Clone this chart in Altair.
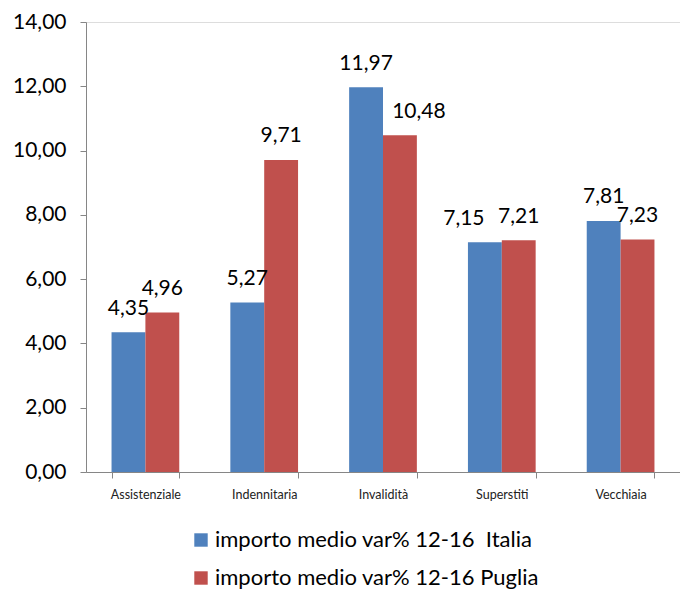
import altair as alt
import pandas as pd

categories = ["Assistenziale", "Indennitaria", "Invalidità", "Superstiti", "Vecchiaia"]
series = ["importo medio var% 12-16\u00a0 Italia", "importo medio var% 12-16 Puglia"]
italia = [4.35, 5.27, 11.97, 7.15, 7.81]
puglia = [4.96, 9.71, 10.48, 7.21, 7.23]
y_ticks = [0, 2, 4, 6, 8, 10, 12, 14]

PLOT_W, PLOT_H, Y_MAX = 594, 450, 14

# manual horizontal label shifts (pixels) as placed in the original chart
label_shift = {("Superstiti", 0): -21, ("Invalidità", 1): 19}

rows = []
for i, c in enumerate(categories):
    for s, vals in enumerate([italia, puglia]):
        rows.append({"categoria": c, "serie": series[s], "valore": vals[i],
                     "shift": label_shift.get((c, s), 0)})
df = pd.DataFrame(rows)

FONT = "Lato"
colors = ["#4F81BD", "#C0504D"]

base = alt.Chart(df).encode(
    x=alt.X("categoria:N", sort=categories, title=None,
            scale=alt.Scale(paddingInner=0.43, paddingOuter=0.215),
            axis=alt.Axis(labelAngle=0, labelFontSize=12.5, labelColor="#222222",
                          labelPadding=10, tickBand="extent", tickSize=6,
                          domainColor="#868686", tickColor="#868686", labelFont=FONT)),
    xOffset=alt.XOffset("serie:N", sort=series),
)

bars = base.mark_bar().encode(
    y=alt.Y("valore:Q", title=None,
            scale=alt.Scale(domain=[0, Y_MAX], nice=False),
            axis=alt.Axis(values=y_ticks, grid=False, labelFontSize=21,
                          labelColor="#000000", labelPadding=14, tickSize=6,
                          domainColor="#868686", tickColor="#868686", labelFont=FONT,
                          labelExpr="replace(format(datum.value, '.2f'), '.', ',')")),
    color=alt.Color("serie:N", sort=series,
                    scale=alt.Scale(domain=series, range=colors),
                    legend=alt.Legend(title=None, orient="none", legendX=104, legendY=507,
                                      direction="vertical", symbolType="square",
                                      symbolSize=180, symbolStrokeWidth=0,
                                      labelFontSize=22, labelFont=FONT, labelColor="#000000",
                                      rowPadding=16, labelOffset=3, labelLimit=500)),
)

label_layers = []
for sh in sorted(set(df["shift"])):
    label_layers.append(
        base.mark_text(fontSize=21, font=FONT, baseline="alphabetic", dy=-17.5,
                       dx=float(sh), color="#000000")
        .transform_filter(f"datum.shift == {sh}")
        .transform_calculate(etichetta="replace(format(datum.valore, '.2f'), '.', ',')")
        .encode(y=alt.Y("valore:Q"), text="etichetta:N")
    )

chart = alt.layer(bars, *label_layers).properties(
    width=PLOT_W, height=PLOT_H,
    autosize=alt.AutoSizeParams(type="none"),
    padding={"left": 86, "top": 22, "right": 0, "bottom": 118},
).configure_view(stroke=None).configure(background="white")

chart.save("out.html", embed_options={"renderer": "svg", "actions": False})
